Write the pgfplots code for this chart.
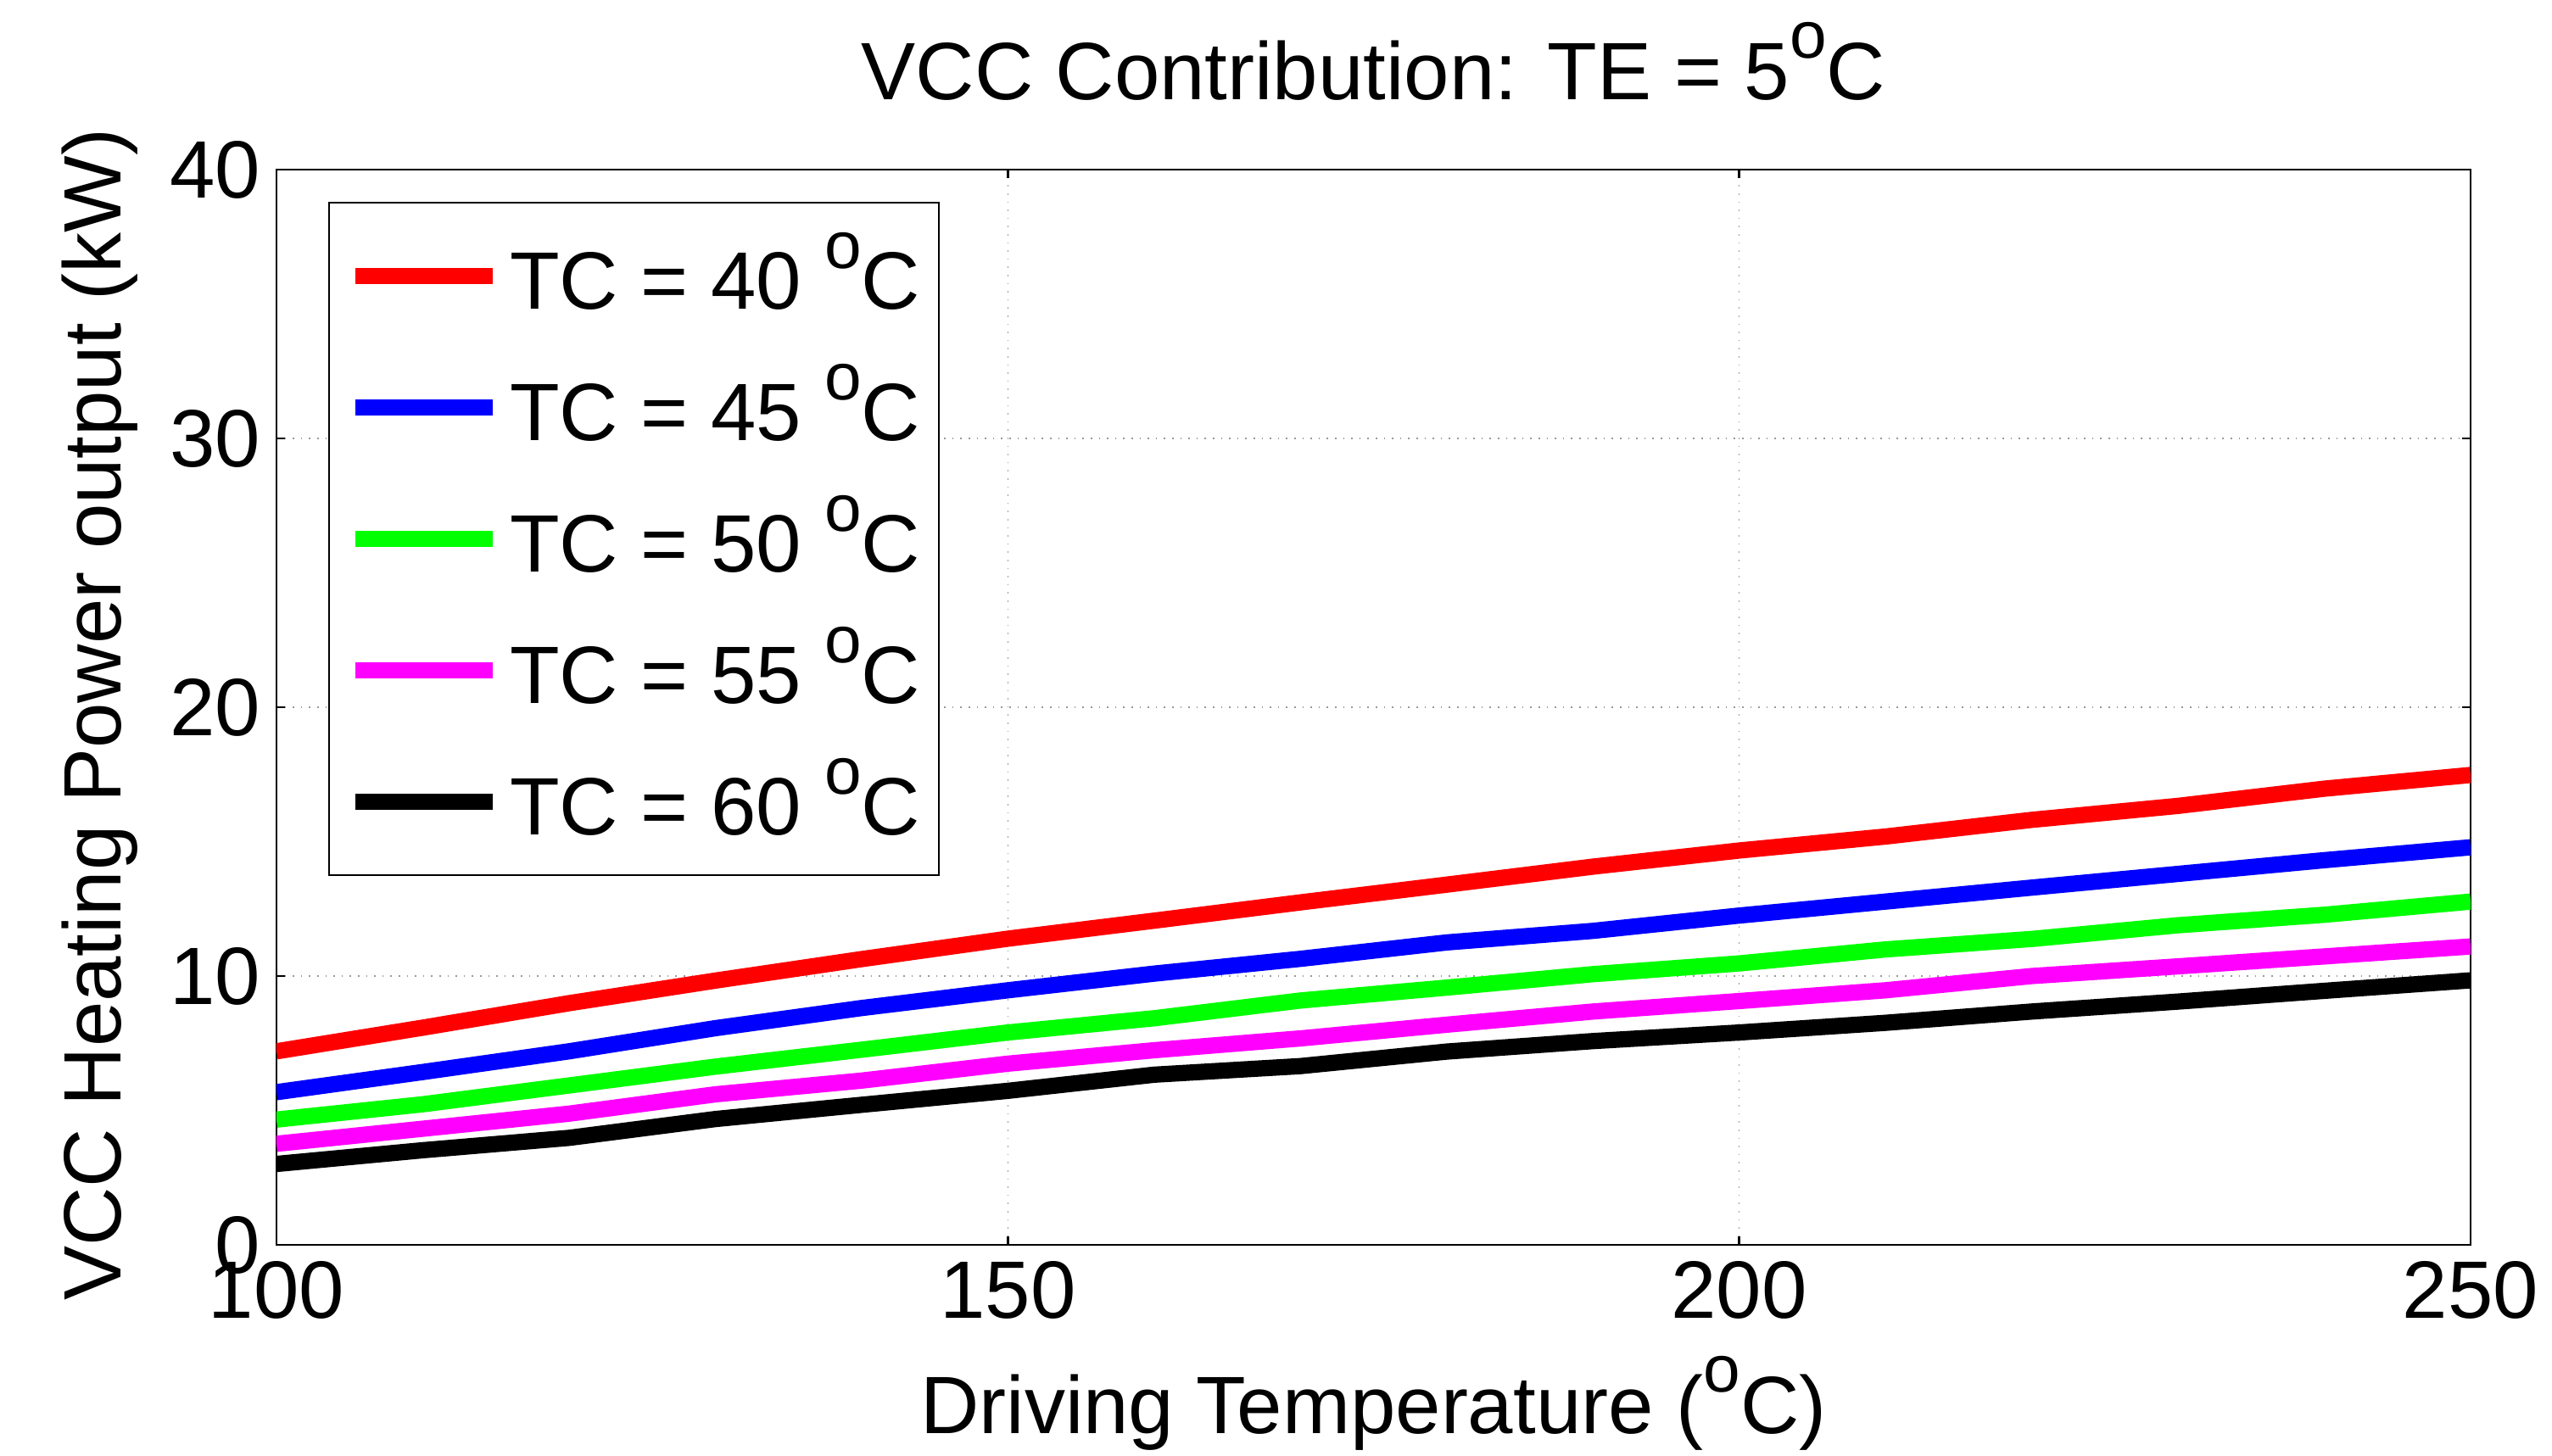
\documentclass[border=0pt]{standalone}
\usepackage{pgfplots}
\usepackage{pgfplotstable}
\pgfplotsset{compat=1.18}
\usepackage{fontspec}
\setmainfont{Liberation Sans}
\setsansfont{Liberation Sans}

% raised letter o used as the degree sign
\newcommand{\degsup}{\raisebox{12.1pt}{\fontsize{19.6}{19.6}\selectfont o}}
\newcommand{\bigfont}{\fontsize{24}{29}\selectfont}
\definecolor{pureMagenta}{RGB}{255,0,255}
\definecolor{pureGreen}{RGB}{0,255,0}

% heating power output (kW) against driving temperature, one column per TC
\pgfplotstableread{
T    tc40   tc45   tc50   tc55   tc60
100  7.20   5.68   4.66   3.76   3.01
110  8.08   6.43   5.23   4.32   3.52
120  8.99   7.20   5.93   4.88   3.98
130  9.83   8.06   6.63   5.60   4.68
140  10.63  8.81   7.26   6.11   5.21
150  11.39  9.47   7.90   6.74   5.73
160  12.06  10.09  8.43   7.24   6.33
170  12.74  10.64  9.09   7.68   6.65
180  13.40  11.25  9.57   8.19   7.19
190  14.07  11.68  10.07  8.68   7.58
200  14.67  12.25  10.47  9.07   7.90
210  15.19  12.77  10.99  9.47   8.26
220  15.81  13.29  11.38  10.00  8.68
230  16.33  13.80  11.89  10.36  9.05
240  16.97  14.31  12.28  10.73  9.45
250  17.48  14.79  12.77  11.10  9.84
}\vccdata

\begin{document}
\bigfont
\begin{tikzpicture}
\begin{axis}[
  at={(0,0)}, anchor=south west,
  scale only axis, width=646.75pt, height=317pt,
  xmin=100, xmax=250, ymin=0, ymax=40,
  xtick={100,150,200,250}, ytick={0,10,20,30,40},
  tick align=inside, tick pos=both, major tick length=2.5pt,
  grid=major,
  major grid style={gray!80, line width=0.4pt, dotted},
  axis line style={line width=0.6pt},
  every tick/.style={black, line width=0.6pt},
  font=\bigfont,
  /pgf/number format/assume math mode=true,
  /pgf/number format/1000 sep={},
  ticklabel style={font=\bigfont},
  yticklabel style={inner xsep=4.5pt, inner ysep=0pt, anchor=east},
  xticklabel style={inner xsep=0pt, inner ysep=4.75pt, anchor=north},
  every axis title shift=0pt,
  title={VCC Contribution: TE = 5\degsup C},
  title style={at={(axis description cs:0.5,1)}, anchor=base, yshift=20.75pt, inner sep=0pt},
  xlabel={Driving Temperature (\degsup C)},
  xlabel style={at={(axis description cs:0.5,0)}, anchor=base, yshift=-55.5pt, inner sep=0pt},
  ylabel={VCC Heating Power output (kW)},
  ylabel style={at={(axis description cs:-0.07074,0.4933)}, anchor=base, inner sep=0pt},
  legend cell align=left,
  legend style={
    at={(axis description cs:0.02358,0.97003)}, anchor=north west,
    draw=black, line width=0.5pt, fill=white,
    inner xsep=5.4pt, inner ysep=9.4pt,
    row sep=14.25pt, column sep=2.6pt,
    font=\bigfont,
    nodes={inner sep=0pt, text height=22pt, text depth=2.5pt},
  },
  legend image code/.code={\draw[#1, line width=4.8pt] (0pt,0pt) -- (40.5pt,0pt);},
]
\addplot[red, line width=4.8pt] table[x=T, y=tc40] {\vccdata};
\addlegendentry{TC = 40 \degsup C}
\addplot[blue, line width=4.8pt] table[x=T, y=tc45] {\vccdata};
\addlegendentry{TC = 45 \degsup C}
\addplot[pureGreen, line width=4.8pt] table[x=T, y=tc50] {\vccdata};
\addlegendentry{TC = 50 \degsup C}
\addplot[pureMagenta, line width=4.8pt] table[x=T, y=tc55] {\vccdata};
\addlegendentry{TC = 55 \degsup C}
\addplot[black, line width=4.8pt] table[x=T, y=tc60] {\vccdata};
\addlegendentry{TC = 60 \degsup C}
\end{axis}
\pgfresetboundingbox
\useasboundingbox (-81.5pt,-62pt) rectangle (670.75pt,367pt);
\end{tikzpicture}
\end{document}
